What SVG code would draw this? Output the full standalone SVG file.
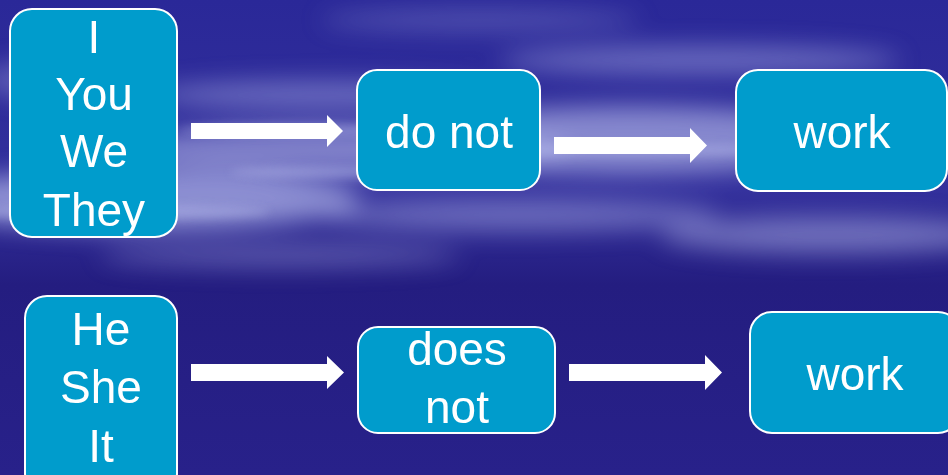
<svg xmlns="http://www.w3.org/2000/svg" width="948" height="475" viewBox="0 0 948 475">
  <defs>
    <linearGradient id="bg" x1="0" y1="0" x2="0" y2="1">
      <stop offset="0" stop-color="#2a2898"/>
      <stop offset="0.4" stop-color="#33309c"/>
      <stop offset="0.6" stop-color="#241d80"/>
      <stop offset="1" stop-color="#28218a"/>
    </linearGradient>
    <filter id="blur" x="-50%" y="-50%" width="200%" height="200%">
      <feGaussianBlur stdDeviation="12"/>
    </filter>
    <filter id="blur2" x="-50%" y="-50%" width="200%" height="200%">
      <feGaussianBlur stdDeviation="5"/>
    </filter>
  </defs>
  <style>
    .box { fill: #009ccc; stroke: #ffffff; stroke-width: 2; }
    .lbl { font-family: "Liberation Sans", Arial, sans-serif; font-size: 46px; fill: #ffffff; text-anchor: middle; }
    .arrow { fill: #ffffff; }
    .cloud { fill: #b4b8ea; }
  </style>

  <!-- background -->
  <rect x="0" y="0" width="948" height="475" fill="url(#bg)"/>
  <g filter="url(#blur)">
    <ellipse class="cloud" cx="140" cy="200" rx="220" ry="30" opacity="0.7"/>
    <ellipse class="cloud" cx="340" cy="150" rx="230" ry="24" opacity="0.6"/>
    <ellipse class="cloud" cx="320" cy="95" rx="170" ry="14" opacity="0.45"/>
    <ellipse class="cloud" cx="630" cy="140" rx="230" ry="34" opacity="0.65"/>
    <ellipse class="cloud" cx="700" cy="60" rx="200" ry="14" opacity="0.45"/>
    <ellipse class="cloud" cx="830" cy="235" rx="170" ry="18" opacity="0.5"/>
    <ellipse class="cloud" cx="520" cy="215" rx="200" ry="16" opacity="0.45"/>
    <ellipse class="cloud" cx="280" cy="255" rx="180" ry="12" opacity="0.35"/>
    <ellipse class="cloud" cx="900" cy="120" rx="120" ry="20" opacity="0.45"/>
    <ellipse class="cloud" cx="60" cy="80" rx="80" ry="20" opacity="0.35"/>
    <ellipse class="cloud" cx="480" cy="20" rx="160" ry="10" opacity="0.3"/>
  </g>
  <g filter="url(#blur2)" opacity="0.45">
    <ellipse class="cloud" cx="120" cy="212" rx="150" ry="7"/>
    <ellipse class="cloud" cx="620" cy="150" rx="160" ry="6"/>
    <ellipse class="cloud" cx="360" cy="172" rx="130" ry="6"/>
    <ellipse class="cloud" cx="300" cy="130" rx="120" ry="5"/>
  </g>

  <!-- connectors -->
  <g id="connectors">
    <polygon class="arrow" points="191,123 327,123 327,115 343,131 327,147 327,139 191,139"/>
    <polygon class="arrow" points="554,137 690,137 690,128 707,145.5 690,163 690,154 554,154"/>
    <polygon class="arrow" points="191,364 327,364 327,356 344,372.5 327,389 327,381 191,381"/>
    <polygon class="arrow" points="569,364 705,364 705,355 722,372.5 705,390 705,381 569,381"/>
  </g>

  <g id="n-plural">
    <rect class="box" x="10" y="9" width="167" height="228" rx="22"/>
    <text class="lbl" x="94" y="53">I</text>
    <text class="lbl" x="94" y="110">You</text>
    <text class="lbl" x="94" y="167">We</text>
    <text class="lbl" x="94" y="226">They</text>
  </g>
  <g id="n-donot">
    <rect class="box" x="357" y="70" width="183" height="120" rx="20"/>
    <text class="lbl" x="449" y="148">do not</text>
  </g>
  <g id="n-work1">
    <rect class="box" x="736" y="70" width="211" height="121" rx="22"/>
    <text class="lbl" x="842" y="148">work</text>
  </g>
  <g id="n-singular">
    <rect class="box" x="25" y="296" width="152" height="200" rx="22"/>
    <text class="lbl" x="101" y="345">He</text>
    <text class="lbl" x="101" y="403">She</text>
    <text class="lbl" x="101" y="462">It</text>
  </g>
  <g id="n-doesnot">
    <rect class="box" x="358" y="327" width="197" height="106" rx="20"/>
    <text class="lbl" x="457" y="365">does</text>
    <text class="lbl" x="457" y="423">not</text>
  </g>
  <g id="n-work2">
    <rect class="box" x="750" y="312" width="210" height="121" rx="22"/>
    <text class="lbl" x="855" y="390">work</text>
  </g>
</svg>
